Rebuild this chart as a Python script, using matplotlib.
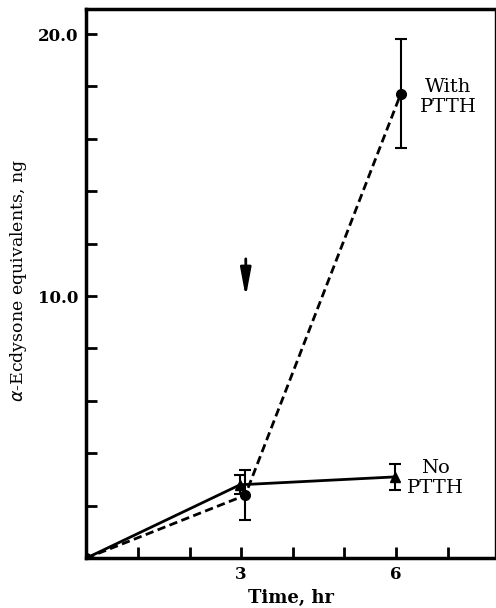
import matplotlib
matplotlib.use("Agg")
import matplotlib.pyplot as plt

# data
t_ptth = [0, 3.08, 6.09]
with_ptth = [0, 2.4, 17.7]
with_err_lo = [0, 0.95, 2.05]
with_err_hi = [0, 0.95, 2.1]

t_no = [0, 2.98, 5.98]
no_ptth = [0, 2.8, 3.1]
no_err = [0, 0.37, 0.5]

plt.rcParams["font.family"] = ["DejaVu Serif"]

fig = plt.figure(figsize=(4.96, 6.08), dpi=100)
ax = fig.add_axes([0.174, 0.082, 0.824, 0.903])

ax.errorbar(t_no, no_ptth, yerr=no_err, color="black", lw=2, marker="^",
            ms=7, capsize=4, elinewidth=1.5, capthick=1.5)
ax.errorbar(t_ptth, with_ptth, yerr=[with_err_lo, with_err_hi], color="black",
            lw=2, ls=(0, (3, 1.6)), marker="o", ms=7, capsize=4,
            elinewidth=1.5, capthick=1.5)

# arrow marking PTTH addition
ax.annotate("", xy=(3.09, 9.96), xytext=(3.09, 11.42),
            arrowprops=dict(arrowstyle="-|>,head_length=0.85,head_width=0.16",
                            color="black", lw=2, mutation_scale=20,
                            shrinkA=0, shrinkB=0))

ax.text(7.02, 17.6, "With\nPTTH", ha="center", va="center", fontsize=14,
        linespacing=1.15)
ax.text(6.77, 3.05, "No\nPTTH", ha="center", va="center", fontsize=14,
        linespacing=1.15)

ax.set_xlim(0, 7.92)
ax.set_ylim(0, 20.95)
ax.set_xticks(range(1, 8))
ax.set_xticklabels(["", "", "3", "", "", "6", ""])
ax.set_yticks(range(2, 21, 2))
ax.set_yticklabels(["" if v not in (10, 20) else "%.1f" % v for v in range(2, 21, 2)])
ax.tick_params(direction="in", length=8, width=2, labelsize=12, pad=6)
for lab in ax.get_xticklabels() + ax.get_yticklabels():
    lab.set_fontweight("bold")

for s in ["left", "bottom", "top"]:
    ax.spines[s].set_linewidth(2.5)
ax.spines["right"].set_linewidth(1)

ax.set_xlabel("Time, hr", fontsize=13, fontweight="bold", labelpad=4)
ax.set_ylabel(r"$\alpha$-Ecdysone equivalents, ng", fontsize=12.5)
ax.yaxis.set_label_coords(-0.14, 0.505)

fig.savefig("out.png", dpi=100)
